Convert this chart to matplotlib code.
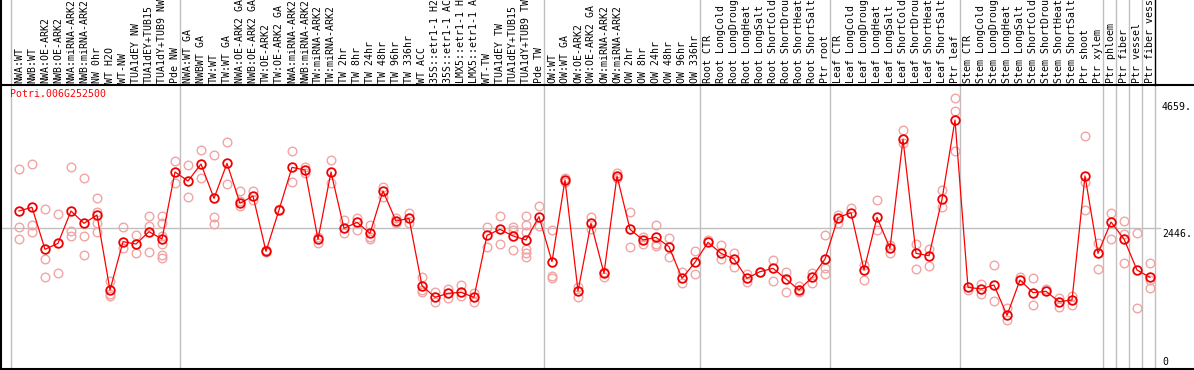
import matplotlib
matplotlib.use("Agg")
import matplotlib.pyplot as plt
import matplotlib.transforms as mtransforms
import numpy as np

labels = [
    "NWA:WT", "NWB:WT", "NWA:OE-ARK2", "NWB:OE-ARK2", "NWA:miRNA-ARK2", "NWB:miRNA-ARK2",
    "NW 0hr", "WT H2O", "WT-NW", "TUA1dEY NW", "TUA1dEY+TUB15", "TUA1dY+TUB9 NW", "Pde NW",
    "NWA:WT GA", "NWBWT GA", "TW:WT", "TW:WT GA", "NWA:OE-ARK2 GA", "NWB:OE-ARK2 GA",
    "TW:OE-ARK2", "TW:OE-ARK2 GA", "NWA:miRNA-ARK2", "NWB:miRNA-ARK2", "TW:miRNA-ARK2",
    "TW:miRNA-ARK2", "TW 2hr", "TW 8hr", "TW 24hr", "TW 48hr", "TW 96hr", "TW 336hr",
    "WT ACC", "35S::etr1-1 H2", "35S::etr1-1 AC", "LMX5::etr1-1 H", "LMX5::etr1-1 A",
    "WT-TW", "TUA1dEY TW", "TUA1dEY+TUB15", "TUA1dY+TUB9 TW", "Pde TW",
    "OW:WT", "OW:WT GA", "OW:OE-ARK2", "OW:OE-ARK2 GA", "OW:miRNA-ARK2", "OW:miRNA-ARK2",
    "OW 2hr", "OW 8hr", "OW 24hr", "OW 48hr", "OW 96hr", "OW 336hr",
    "Root CTR", "Root LongCold", "Root LongDroug", "Root LongHeat", "Root LongSalt",
    "Root ShortCold", "Root ShortDrou", "Root ShortHeat", "Root ShortSalt", "Ptr root",
    "Leaf CTR", "Leaf LongCold", "Leaf LongDroug", "Leaf LongHeat", "Leaf LongSalt",
    "Leaf ShortCold", "Leaf ShortDrou", "Leaf ShortHeat", "Leaf ShortSalt", "Ptr leaf",
    "Stem CTR", "Stem LongCold", "Stem LongDroug", "Stem LongHeat", "Stem LongSalt",
    "Stem ShortCold", "Stem ShortDrou", "Stem ShortHeat", "Stem ShortSalt", "Ptr shoot",
    "Ptr xylem", "Ptr phloem", "Ptr fiber", "Ptr vessel", "Ptr fiber vess",
]

group_sizes = [13, 28, 12, 10, 10, 11, 1, 1, 1, 1]

means = [
    2741, 2804, 2076, 2180, 2741, 2527, 2671, 1370, 2209, 2168, 2382, 2255, 3417,
    3261, 3556, 2960, 3567, 2874, 3001, 2041, 2758, 3498, 3452, 2249, 3417, 2440,
    2544, 2353, 3088, 2567, 2613, 1445, 1243, 1312, 1330, 1243, 2318, 2423, 2307,
    2238, 2642,
    1862, 3278, 1353, 2527, 1659, 3348, 2423, 2238, 2284, 2122, 1573, 1850,
    2197, 2006, 1908, 1573, 1688, 1746, 1561, 1370, 1590, 1908,
    2625, 2712, 1717, 2631, 2093, 3984, 2006, 1966, 2943, 4319,
    1417, 1388, 1457, 931, 1544, 1324, 1347, 1168, 1197, 3348, 2006,
    2550, 2255, 1717, 1590,
]

replicates = [
    [3463, 2457, 2261], [3556, 2498, 2371], [2775, 1902, 1590], [2683, 1665],
    [3498, 2394, 2307], [3307, 2307, 1972], [2966, 2729, 2538, 2371], [1532, 1301, 1272],
    [2457, 2093], [2324, 2006], [2654, 2480, 2024], [2654, 2527, 2313, 2168, 1983, 1920],
    [3608, 3220],
    [3533, 2978], [3793, 3307], [3712, 2637, 2509], [3932, 3203], [3093, 2914, 2827],
    [3088, 2926], [2064, 2024], [2770], [3781, 3238], [3510, 3394], [2295, 2180],
    [3625, 3220], [2585, 2365], [2625, 2411], [2498, 2295, 2255], [3151, 2978],
    [2613, 2538], [2700, 2538], [1590, 1370, 1330], [1336, 1156], [1382, 1226],
    [1457, 1266], [1312, 1168], [2469, 2122], [2660, 2162], [2457, 2411, 2058],
    [2654, 2498, 2382, 2076, 2006, 1949], [2827, 2480],
    [2411, 1619, 1573], [3307, 3249], [1428, 1255], [2642, 2423], [1688, 1602],
    [3394, 3307], [2718, 2110], [2295, 2168], [2498, 2168, 2134], [2278, 1949],
    [1688, 1486], [2047, 1648],
    [2238], [2151, 1902], [2006, 1775], [1648, 1515], [1688], [1891, 1526],
    [1680, 1336], [1440, 1341], [1671, 1486], [2324, 1746, 1642],
    [2671, 2538], [2787], [1804, 1544], [2931, 2411], [2151, 2006], [4146, 3914],
    [2168, 1735], [2081, 1787], [3105, 2816], [4695, 4469, 3781],
    [1370], [1469, 1301], [1804, 1180], [1052, 850], [1602], [1573, 1110], [1382],
    [1226, 1081], [1272, 1110], [4042, 3249, 2758], [2180, 1735],
    [2700, 2255], [2573, 2342, 1844], [2353, 1052], [1844, 1544, 1399],
]

ytick_values = [0, 2446, 4659]
ytick_labels = ["0", "2446.", "4659."]
gene_name = "Potri.006G252500"

W, H = 1194, 370
fig = plt.figure(figsize=(W / 100, H / 100), dpi=100)
plot_top_px, plot_bot_px = 85, 369
ax = fig.add_axes([0, (H - plot_bot_px) / H, 1, (plot_bot_px - plot_top_px) / H])

px_per_unit = 0.05765
ax.set_ylim(0, (plot_bot_px - plot_top_px) / px_per_unit)
ax.set_xlim(-19 / 13, (W - 19) / 13)
ax.set_xticks([])
ax.set_yticks([])
ax.spines["right"].set_visible(False)
for s in ["top", "bottom", "left"]:
    ax.spines[s].set_color("black")
    ax.spines[s].set_linewidth(1.5)

grey = "#c0c0c0"
mono = "DejaVu Sans Mono"
fs = 7.1

# horizontal mid gridline
ax.axhline(ytick_values[1], xmin=0, xmax=1160 / W, color=grey, lw=1, zorder=1)

# group separators (extend into header)
header_top = (plot_bot_px - 0) / (plot_bot_px - plot_top_px)
bounds = np.concatenate([[0], np.cumsum(group_sizes)]) - 0.5 - 0.12
for k, b in enumerate(bounds):
    ax.axvline(b, ymin=0, ymax=1, color=grey, lw=1, zorder=1)
    ax.axvline(b, ymin=1, ymax=header_top, color=("black" if k == len(bounds) - 1 else grey),
               lw=1, zorder=1, clip_on=False)

x = np.arange(len(means))

# replicates
rx, ry = [], []
for i, reps in enumerate(replicates):
    for v in reps:
        rx.append(i)
        ry.append(v)
ax.plot(rx, ry, linestyle="none", marker="o", markersize=6.2, markerfacecolor="none",
        markeredgecolor="#f2a4a4", markeredgewidth=1.0, zorder=2, clip_on=False)

# mean line
ax.plot(x, means, color="#ff0000", lw=0.9, zorder=3)
ax.plot(x, means, linestyle="none", marker="o", markersize=6.2, markerfacecolor="none",
        markeredgecolor="#ee0000", markeredgewidth=1.3, zorder=4)

# header labels
trans_lab = mtransforms.blended_transform_factory(ax.transData, ax.transAxes)
for i, lab in enumerate(labels):
    ax.text(i, 1 + 2 / (plot_bot_px - plot_top_px), lab, rotation=90, ha="center", va="bottom",
            fontsize=fs, family=mono, color="black", transform=trans_lab, clip_on=False)

# right value labels
trans_y = mtransforms.blended_transform_factory(ax.transAxes, ax.transData)
for v, t in zip(ytick_values, ytick_labels):
    va = "bottom" if v == 0 else "top"
    ax.text(1162 / W, v + (40 if v == 0 else -20), t, ha="left", va=va, fontsize=fs,
            family=mono, color="black", transform=trans_y)

# gene name
ax.text(10 / W, 1 - 4 / (plot_bot_px - plot_top_px), gene_name, ha="left", va="top",
        fontsize=fs, family=mono, color="#ff0000", transform=ax.transAxes)

# left border over header
fig.add_artist(plt.Line2D([0.6 / W, 0.6 / W], [0, 1], color="black", lw=1.5,
                          transform=fig.transFigure))

fig.savefig("out.png", dpi=100)
